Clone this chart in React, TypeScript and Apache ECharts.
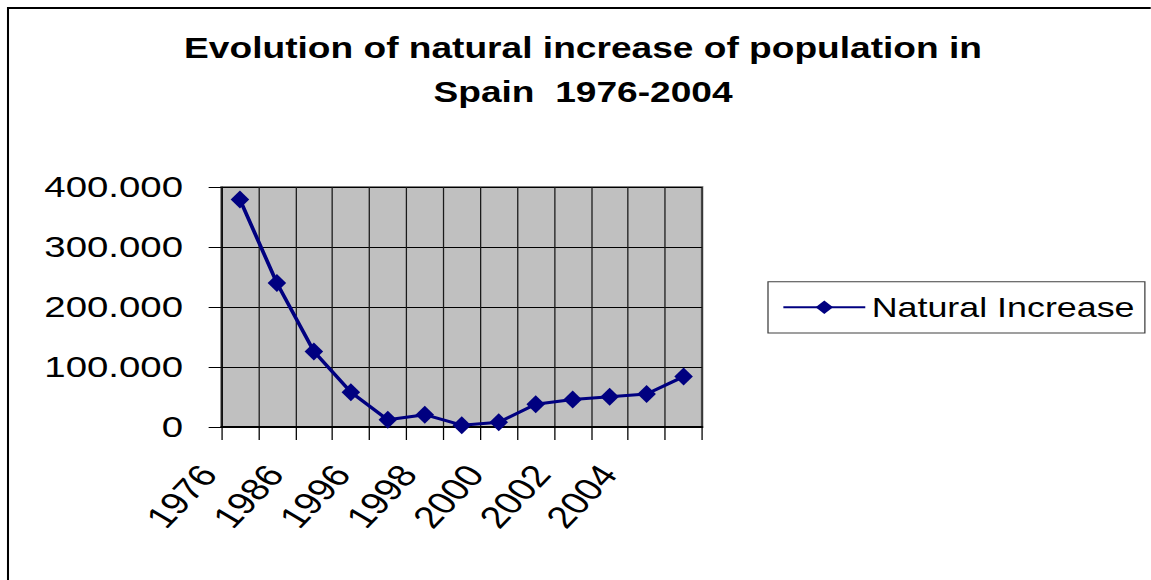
import React, { useEffect, useRef } from "react";
import * as echarts from "echarts";

// Data
const categories = ["1976", "1981", "1986", "1991", "1996", "1997", "1998", "1999", "2000", "2001", "2002", "2003", "2004"];
const naturalIncrease = [379000, 240000, 126000, 58000, 12000, 20500, 3000, 8000, 38000, 46000, 50500, 55000, 84000];
const tickLabels = ["1976", "1986", "1996", "1998", "2000", "2002", "2004"];
const titleLines = ["Evolution of natural increase of population in", "Spain  1976-2004"];
const seriesName = "Natural Increase";
const yMin = 0;
const yMax = 400000;
const yStep = 100000;

const SCALE = 1.28;
const W = 899;
const H = 580;
const FONT = '"Liberation Sans", Arial, sans-serif';

function fmt(v: number): string {
  return String(v).replace(/\B(?=(\d{3})+(?!\d))/g, ".");
}

export default function App() {
  const ref = useRef<HTMLDivElement>(null);
  useEffect(() => {
    if (!ref.current) return;
    const chart = echarts.init(ref.current, undefined, { renderer: "svg", width: W, height: H });
    chart.setOption({
      animation: false,
      backgroundColor: "#ffffff",
      textStyle: { fontFamily: FONT },
      graphic: [
        { type: "line", shape: { x1: 6.25, y1: 7, x2: 6.25, y2: 600 }, style: { stroke: "#000", lineWidth: 1.6 } },
        { type: "line", shape: { x1: 5.5, y1: 8, x2: 910, y2: 8 }, style: { stroke: "#000", lineWidth: 2 } },
        {
          type: "text", x: 455.5, y: 48.3,
          style: { text: titleLines[0], align: "center", verticalAlign: "middle", fontSize: 29, fontWeight: "bold", fontFamily: FONT, fill: "#000" },
        },
        {
          type: "text", x: 455.5, y: 92,
          style: { text: titleLines[1], align: "center", verticalAlign: "middle", fontSize: 29, fontWeight: "bold", fontFamily: FONT, fill: "#000" },
        },
      ],
      legend: {
        show: true,
        left: 600,
        top: 281.7,
        orient: "vertical",
        padding: [11.6, 8, 11.6, 11],
        itemWidth: 64,
        itemHeight: 17,
        borderColor: "#404040",
        borderWidth: 1,
        backgroundColor: "#fff",
        textStyle: { fontSize: 28, fontFamily: FONT, color: "#000", lineHeight: 28 },
        data: [seriesName],
      },
      grid: [
        {
          left: 173, top: 187, width: 375.5, height: 240,
          show: true, backgroundColor: "#c0c0c0", borderColor: "#808080", borderWidth: 2,
        },
        { left: 136.8, top: 187, width: 364.6, height: 240, show: false },
      ],
      xAxis: [
        {
          type: "category",
          gridIndex: 0,
          data: categories,
          boundaryGap: true,
          axisLine: { show: true, lineStyle: { color: "#000", width: 2 } },
          axisTick: { show: true, interval: 0, length: 13, lineStyle: { color: "#000", width: 1 } },
          axisLabel: { show: false },
          splitLine: { show: true, interval: 0, lineStyle: { color: "#1a1a1a", width: 1 } },
        },
        {
          type: "category",
          gridIndex: 1,
          data: tickLabels,
          boundaryGap: true,
          axisLine: { show: false },
          axisTick: { show: false },
          splitLine: { show: false },
          axisLabel: { show: true, interval: 0, rotate: 53, margin: 42, fontSize: 31, fontFamily: FONT, color: "#000" },
        },
      ],
      yAxis: [
        {
          type: "value",
          gridIndex: 0,
          min: yMin,
          max: yMax,
          interval: yStep,
          axisLine: { show: true, lineStyle: { color: "#000", width: 1 } },
          axisTick: { show: true, length: 10, lineStyle: { color: "#000", width: 1 } },
          axisLabel: { show: true, margin: 30, fontSize: 30, fontFamily: FONT, color: "#000", formatter: (v: number) => fmt(v) },
          splitLine: { show: true, lineStyle: { color: "#000", width: 1 } },
        },
        { type: "value", gridIndex: 1, show: false, min: yMin, max: yMax },
      ],
      series: [
        {
          name: seriesName,
          type: "line",
          xAxisIndex: 0,
          yAxisIndex: 0,
          data: naturalIncrease,
          symbol: "diamond",
          symbolSize: [14.5, 18],
          color: "#000080",
          lineStyle: { color: "#000080", width: 3 },
          itemStyle: { color: "#000080" },
        },
      ],
    });
    return () => chart.dispose();
  }, []);
  return (
    <div
      style={{
        position: "fixed",
        left: 0,
        top: 0,
        width: W,
        height: H,
        transform: `scaleX(${SCALE})`,
        transformOrigin: "0 0",
        background: "#fff",
      }}
    >
      <div ref={ref} style={{ width: W, height: H }} />
    </div>
  );
}
